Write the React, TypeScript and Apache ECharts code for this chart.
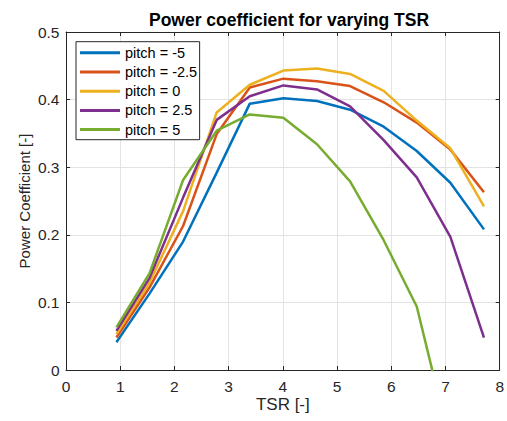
import React, { useEffect, useRef } from "react";
import * as echarts from "echarts";

const tsr = [0.93, 1.54, 2.16, 2.78, 3.39, 4.01, 4.63, 5.24, 5.86, 6.47, 7.09, 7.71];
const pitchM5 = [0.041, 0.113, 0.19, 0.292, 0.394, 0.402, 0.398, 0.385, 0.36, 0.324, 0.277, 0.208];
const pitchM25 = [0.048, 0.122, 0.213, 0.349, 0.418, 0.431, 0.427, 0.42, 0.396, 0.366, 0.326, 0.263];
const pitch0 = [0.053, 0.129, 0.235, 0.381, 0.422, 0.443, 0.446, 0.438, 0.413, 0.369, 0.328, 0.242];
const pitch25 = [0.058, 0.136, 0.255, 0.37, 0.405, 0.421, 0.415, 0.39, 0.34, 0.285, 0.197, 0.048];
const pitch5 = [0.063, 0.143, 0.281, 0.354, 0.378, 0.373, 0.334, 0.279, 0.192, 0.094, -0.11, null];

const seriesNames = ["pitch = -5", "pitch = -2.5", "pitch = 0", "pitch = 2.5", "pitch = 5"];
const seriesData = [pitchM5, pitchM25, pitch0, pitch25, pitch5];
const colors = ["#0072BD", "#D95319", "#EDB120", "#7E2F8E", "#77AC30"];

const xTicks = [0, 1, 2, 3, 4, 5, 6, 7, 8];
const yTicks = [0, 0.1, 0.2, 0.3, 0.4, 0.5];

export default function App() {
  const ref = useRef<HTMLDivElement>(null);
  useEffect(() => {
    if (!ref.current) return;
    const chart = echarts.init(ref.current, null, { renderer: "svg" });
    const font = "'Liberation Sans', Arial, Helvetica, sans-serif";
    const axisColor = "#262626";
    const baseX = {
      type: "value" as const,
      min: xTicks[0],
      max: xTicks[xTicks.length - 1],
      interval: 1,
    };
    const baseY = {
      type: "value" as const,
      min: yTicks[0],
      max: yTicks[yTicks.length - 1],
      interval: 0.1,
    };
    chart.setOption({
      animation: false,
      backgroundColor: "#ffffff",
      title: {
        text: "Power coefficient for varying TSR",
        left: 284,
        textAlign: "center",
        top: 6,
        textStyle: { fontFamily: font, fontSize: 17.5, fontWeight: "bold", color: "#000000" },
      },
      legend: {
        orient: "vertical",
        left: 76,
        top: 41.7,
        padding: [1.5, 2.5, 0.5, 4],
        itemGap: 0,
        itemWidth: 40,
        itemHeight: 3,
        icon: "rect",
        borderColor: "#262626",
        borderWidth: 1,
        backgroundColor: "#ffffff",
        textStyle: { fontFamily: font, fontSize: 14.5, color: "#000000", lineHeight: 19.2 },
        data: seriesNames,
      },
      grid: { left: 66, top: 32, right: 5.3, bottom: 51, containLabel: false },
      xAxis: [
        {
          ...baseX,
          position: "bottom",
          name: "TSR [-]",
          nameLocation: "middle",
          nameGap: 26,
          nameMoveOverlap: false,
          nameTextStyle: { fontFamily: font, fontSize: 17, color: axisColor },
          axisLine: { show: true, lineStyle: { color: axisColor, width: 1 } },
          axisTick: { show: true, inside: true, length: 4, lineStyle: { color: axisColor } },
          axisLabel: {
            fontFamily: font,
            fontSize: 15.5,
            color: axisColor,
            margin: 8,
            formatter: (v: number) => String(v),
          },
          splitLine: { show: true, lineStyle: { color: "#e3e3e3", width: 1 } },
        },
        {
          ...baseX,
          position: "top",
          axisLine: { show: true, onZero: false, lineStyle: { color: axisColor, width: 1 } },
          axisTick: { show: true, inside: true, length: 4, lineStyle: { color: axisColor } },
          axisLabel: { show: false },
          splitLine: { show: false },
        },
      ],
      yAxis: [
        {
          ...baseY,
          position: "left",
          name: "Power Coefficient [-]",
          nameLocation: "middle",
          nameGap: 34.5,
          nameMoveOverlap: false,
          nameTextStyle: { fontFamily: font, fontSize: 15, color: axisColor },
          axisLine: { show: true, lineStyle: { color: axisColor, width: 1 } },
          axisTick: { show: true, inside: true, length: 4, lineStyle: { color: axisColor } },
          axisLabel: {
            fontFamily: font,
            fontSize: 15.5,
            color: axisColor,
            margin: 6.5,
            formatter: (v: number) => String(Math.round(v * 10) / 10),
          },
          splitLine: { show: true, lineStyle: { color: "#e3e3e3", width: 1 } },
        },
        {
          ...baseY,
          position: "right",
          axisLine: { show: true, onZero: false, lineStyle: { color: axisColor, width: 1 } },
          axisTick: { show: true, inside: true, length: 4, lineStyle: { color: axisColor } },
          axisLabel: { show: false },
          splitLine: { show: false },
        },
      ],
      series: seriesData.map((vals, i) => ({
        name: seriesNames[i],
        type: "line",
        xAxisIndex: 0,
        yAxisIndex: 0,
        data: tsr.map((x, j) => [x, vals[j]]),
        showSymbol: false,
        symbol: "none",
        clip: true,
        connectNulls: false,
        lineStyle: { color: colors[i], width: 2.5 },
        itemStyle: { color: colors[i] },
      })),
    });
    return () => chart.dispose();
  }, []);
  return <div ref={ref} style={{ width: 507, height: 421, position: "absolute", left: 0, top: 0 }} />;
}
